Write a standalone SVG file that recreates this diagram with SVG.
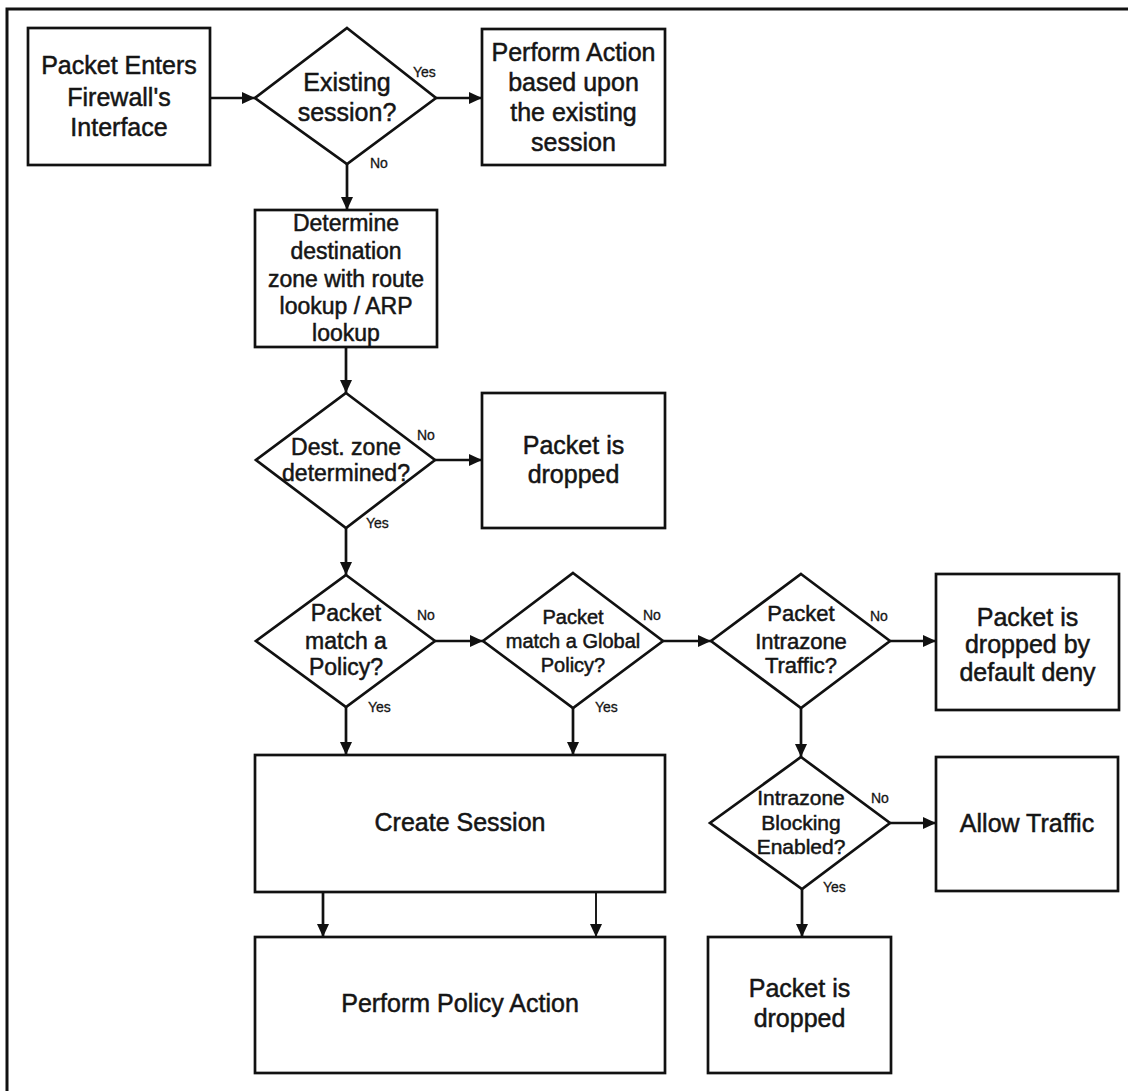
<svg xmlns="http://www.w3.org/2000/svg" width="1128" height="1091" viewBox="0 0 1128 1091">
  <style>
    .box { fill: #ffffff; stroke: #111111; stroke-width: 2.7; }
    .dec { fill: #ffffff; stroke: #111111; stroke-width: 2.7; stroke-linejoin: miter; }
    .t { font-family: "Liberation Sans", Arial, sans-serif; fill: #151515; stroke: #151515; stroke-width: 0.5; text-anchor: middle; }
    .t25 { font-size: 25px; }
    .t23 { font-size: 23px; }
    .t22 { font-size: 22px; }
    .t21 { font-size: 21px; }
    .t20 { font-size: 20px; }
    .lbl { font-family: "Liberation Sans", Arial, sans-serif; font-size: 14px; fill: #151515; stroke: #151515; stroke-width: 0.3; }
    .c { stroke: #111111; stroke-width: 2.7; fill: none; marker-end: url(#ah); }
    .thin { stroke-width: 1.9; }
  </style>
  <defs>
    <marker id="ah" markerUnits="userSpaceOnUse" markerWidth="14" markerHeight="13" refX="13" refY="6.5" orient="auto">
      <path d="M0,0.5 L13,6.5 L0,12.5 z" fill="#111111"/>
    </marker>
  </defs>

  <rect width="1128" height="1091" fill="#ffffff"/>
  <!-- outer frame: top and left edges only -->
  <path d="M7,1091 V9 H1128" fill="none" stroke="#111111" stroke-width="3"/>

  <!-- connectors -->
  <g id="connectors">
    <line class="c" x1="210" y1="98" x2="255" y2="98"/>
    <line class="c" x1="436" y1="98" x2="482" y2="98"/>
    <line class="c" x1="347" y1="164" x2="347" y2="210"/>
    <line class="c" x1="346" y1="347" x2="346" y2="393"/>
    <line class="c" x1="435" y1="460" x2="482" y2="460"/>
    <line class="c" x1="346" y1="528" x2="346" y2="575"/>
    <line class="c" x1="435" y1="641" x2="483" y2="641"/>
    <line class="c" x1="663" y1="641" x2="711" y2="641"/>
    <line class="c" x1="890" y1="641" x2="936" y2="641"/>
    <line class="c" x1="346" y1="707" x2="346" y2="755"/>
    <line class="c" x1="573" y1="708" x2="573" y2="755"/>
    <line class="c" x1="801" y1="708" x2="801" y2="757"/>
    <line class="c" x1="890" y1="823" x2="936" y2="823"/>
    <line class="c" x1="802" y1="889" x2="802" y2="937"/>
    <line class="c" x1="323" y1="892" x2="323" y2="937"/>
    <line class="c thin" x1="596" y1="892" x2="596" y2="937"/>
  </g>

  <!-- edge labels -->
  <g id="edge-labels">
    <text class="lbl" x="413" y="77">Yes</text>
    <text class="lbl" x="370" y="168">No</text>
    <text class="lbl" x="417" y="440">No</text>
    <text class="lbl" x="366" y="528">Yes</text>
    <text class="lbl" x="417" y="620">No</text>
    <text class="lbl" x="368" y="712">Yes</text>
    <text class="lbl" x="643" y="620">No</text>
    <text class="lbl" x="595" y="712">Yes</text>
    <text class="lbl" x="870" y="621">No</text>
    <text class="lbl" x="871" y="803">No</text>
    <text class="lbl" x="823" y="892">Yes</text>
  </g>

  <g id="packet-enters">
    <rect class="box" x="28" y="28" width="182" height="137"/>
    <text class="t t25" x="119" y="74">Packet Enters</text>
    <text class="t t25" x="119" y="106">Firewall's</text>
    <text class="t t25" x="119" y="136">Interface</text>
  </g>

  <g id="existing-session">
    <polygon class="dec" points="347,28 436,98 347,164 255,98"/>
    <text class="t t25" x="347" y="91">Existing</text>
    <text class="t t25" x="347" y="121">session?</text>
  </g>

  <g id="perform-action">
    <rect class="box" x="482" y="29" width="183" height="136"/>
    <text class="t t25" x="573.5" y="61">Perform Action</text>
    <text class="t t25" x="573.5" y="91">based upon</text>
    <text class="t t25" x="573.5" y="121">the existing</text>
    <text class="t t25" x="573.5" y="151">session</text>
  </g>

  <g id="determine-zone">
    <rect class="box" x="255" y="210" width="182" height="137"/>
    <text class="t t23" x="346" y="231">Determine</text>
    <text class="t t23" x="346" y="259">destination</text>
    <text class="t t23" x="346" y="287">zone with route</text>
    <text class="t t23" x="346" y="314">lookup / ARP</text>
    <text class="t t23" x="346" y="341">lookup</text>
  </g>

  <g id="dest-zone-determined">
    <polygon class="dec" points="346,393 435,460 346,528 256,460"/>
    <text class="t t23" x="346" y="455">Dest. zone</text>
    <text class="t t23" x="346" y="481">determined?</text>
  </g>

  <g id="dropped-no-zone">
    <rect class="box" x="482" y="393" width="183" height="135"/>
    <text class="t t25" x="573.5" y="454">Packet is</text>
    <text class="t t25" x="573.5" y="483">dropped</text>
  </g>

  <g id="match-policy">
    <polygon class="dec" points="346,575 435,641 346,707 256,641"/>
    <text class="t t23" x="346" y="621">Packet</text>
    <text class="t t23" x="346" y="649">match a</text>
    <text class="t t23" x="346" y="675">Policy?</text>
  </g>

  <g id="match-global-policy">
    <polygon class="dec" points="573,573 663,641 573,708 483,641"/>
    <text class="t t20" x="573" y="624">Packet</text>
    <text class="t t20" x="573" y="648">match a Global</text>
    <text class="t t20" x="573" y="672">Policy?</text>
  </g>

  <g id="intrazone-traffic">
    <polygon class="dec" points="801,574 890,641 801,708 711,641"/>
    <text class="t t22" x="801" y="621">Packet</text>
    <text class="t t22" x="801" y="649">Intrazone</text>
    <text class="t t22" x="801" y="673">Traffic?</text>
  </g>

  <g id="default-deny">
    <rect class="box" x="936" y="574" width="183" height="136"/>
    <text class="t t25" x="1027.5" y="626">Packet is</text>
    <text class="t t25" x="1027.5" y="653">dropped by</text>
    <text class="t t25" x="1027.5" y="681">default deny</text>
  </g>

  <g id="create-session">
    <rect class="box" x="255" y="755" width="410" height="137"/>
    <text class="t t25" x="460" y="831">Create Session</text>
  </g>

  <g id="intrazone-blocking">
    <polygon class="dec" points="801,757 890,823 802,889 710,823"/>
    <text class="t t21" x="801" y="805">Intrazone</text>
    <text class="t t21" x="801" y="830">Blocking</text>
    <text class="t t21" x="801" y="854">Enabled?</text>
  </g>

  <g id="allow-traffic">
    <rect class="box" x="936" y="757" width="182" height="134"/>
    <text class="t t25" x="1027" y="832">Allow Traffic</text>
  </g>

  <g id="perform-policy-action">
    <rect class="box" x="255" y="937" width="410" height="136"/>
    <text class="t t25" x="460" y="1012">Perform Policy Action</text>
  </g>

  <g id="dropped-blocked">
    <rect class="box" x="708" y="937" width="183" height="136"/>
    <text class="t t25" x="799.5" y="997">Packet is</text>
    <text class="t t25" x="799.5" y="1027">dropped</text>
  </g>
</svg>
